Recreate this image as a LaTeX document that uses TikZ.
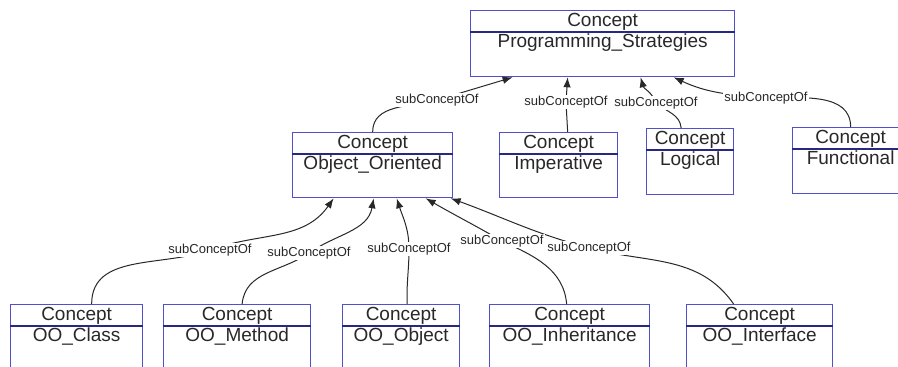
\documentclass[tikz,border=0pt]{standalone}
\usepackage{fontspec}
\setmainfont{Liberation Sans}
\usetikzlibrary{arrows.meta}
\definecolor{boxblue}{RGB}{80,80,204}
\definecolor{divblue}{RGB}{40,40,130}
\definecolor{txtgray}{RGB}{40,40,40}
\tikzset{
  cbox/.style={draw=boxblue, line width=1.3pt, anchor=north west, inner sep=0pt, rectangle},
  divline/.style={draw=divblue, line width=1.1pt},
  ctext/.style={text=txtgray, inner sep=0pt, font=\fontsize{19}{21}\selectfont},
  lbl/.style={fill=white, text=txtgray, inner sep=1pt, font=\fontsize{13}{14}\selectfont},
  edge/.style={draw=txtgray, line width=1pt, -{Latex[length=10pt,width=7.5pt]}}
}
\newcommand\ConceptBox[6]{%
  \node[cbox, minimum width=#4pt, minimum height=#5pt] (#1) at (#2,#3) {};
  \draw[divline] ([yshift=-22pt]#1.north west) -- ([yshift=-22pt]#1.north east);
  \node[ctext, anchor=base] (#1-t) at ([yshift=-16pt]#1.north) {Concept};
  \node[ctext, anchor=base] (#1-n) at ([yshift=-37pt]#1.north) {#6};
}
\begin{document}
\begin{tikzpicture}[x=1pt,y=-1pt]
\useasboundingbox (0,0) rectangle (898,367);
\clip (0,0) rectangle (898,367);
\fill[white] (0,0) rectangle (898,367);
% boxes
\ConceptBox{ps}{470}{10}{264}{66}{Programming\_Strategies}
\ConceptBox{oo}{292}{132}{160}{65}{Object\_Oriented}
\ConceptBox{imp}{499}{132}{118}{65}{Imperative}
\ConceptBox{log}{646}{128}{87}{66}{Logical}
\ConceptBox{fun}{792}{127}{116}{66}{Functional}
\ConceptBox{cls}{10}{304}{132}{80}{OO\_Class}
\ConceptBox{met}{163}{304}{147}{80}{OO\_Method}
\ConceptBox{obj}{342}{304}{117}{80}{OO\_Object}
\ConceptBox{inh}{489}{304}{160}{80}{OO\_Inheritance}
\ConceptBox{itf}{686}{304}{146}{80}{OO\_Interface}
% label positions
\coordinate (l1) at (437,100);
\coordinate (l2) at (566,102);
\coordinate (l3) at (656,103);
\coordinate (l4) at (766,98);
\coordinate (la) at (210,250);
\coordinate (lb) at (309,253);
\coordinate (lc) at (409,249);
\coordinate (ld) at (502,241);
\coordinate (le) at (589,248);
% edges to Programming_Strategies
\draw[edge] (oo.north) to[out=90,in=195] (l1) -- ([xshift=-90pt]ps.south);
\draw[edge] ([xshift=9pt]imp.north) -- (l2) -- ([xshift=-35pt]ps.south);
\draw[edge] ([xshift=-9pt]log.north) to[out=95,in=-40] (l3) to[out=110,in=-75] ([xshift=38pt]ps.south);
\draw[edge] (fun.north) to[out=90,in=0] (l4) to[out=175,in=-25] ([xshift=71pt]ps.south);
% edges to Object_Oriented
\draw[edge] ([xshift=15pt]cls.north) to[out=90,in=200] (la) to[out=20,in=-125] ([xshift=-39pt]oo.south);
\draw[edge] ([xshift=5pt]met.north) to[out=85,in=215] (lb) to[out=35,in=-100] ([xshift=1pt]oo.south);
\draw[edge] ([xshift=6pt]obj.north) to[out=92,in=-90] (lc) to[out=90,in=-72] ([xshift=24pt]oo.south);
\draw[edge] ([xshift=-3pt]inh.north) to[out=95,in=-25] (ld) to[out=150,in=-30] ([xshift=53pt]oo.south);
\draw[edge] ([xshift=-26pt]itf.north) to[out=125,in=-15] (le) to[out=165,in=-20] ([xshift=78pt]oo.south);
% labels
\foreach \n in {l1,l2,l3,l4,la,lb,lc,ld,le}
  \node[lbl] (\n-txt) at (\n) {subConceptOf};
\end{tikzpicture}
\end{document}
